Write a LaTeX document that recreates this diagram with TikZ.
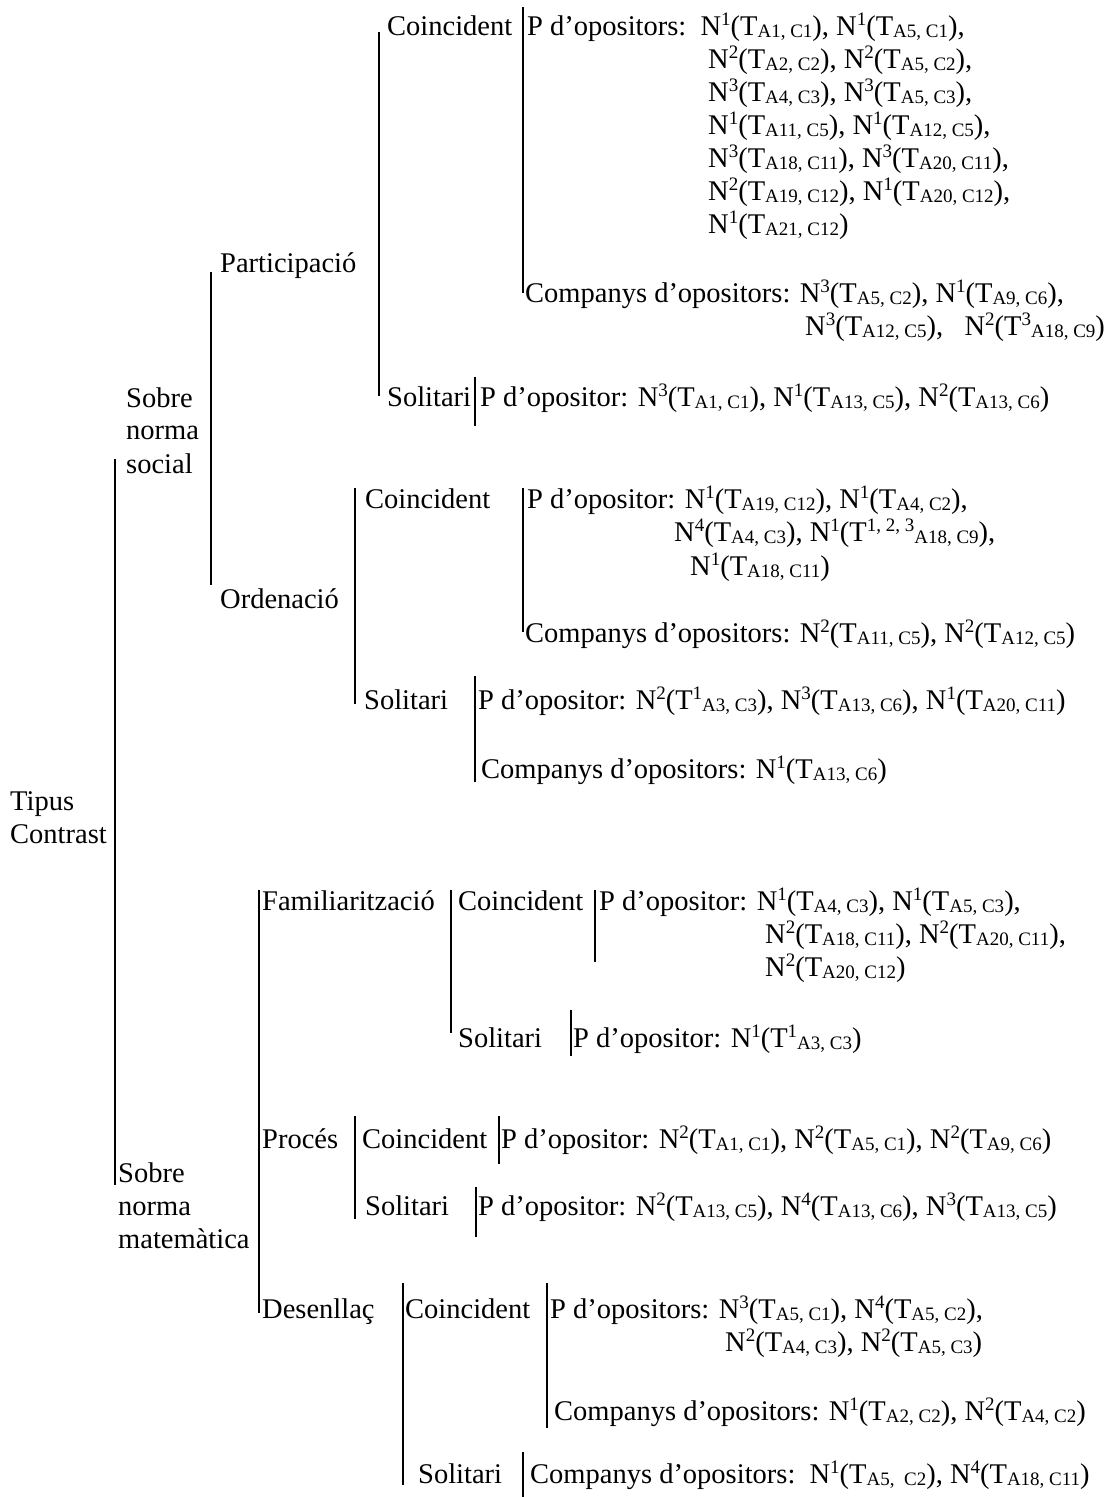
\documentclass[tikz,border=0pt]{standalone}
\usepackage{fontspec}
\setmainfont{Liberation Serif}
% raised and lowered indices at two thirds of the text size
\newcommand\Up[1]{\raisebox{0.33em}{\fontsize{19}{19}\selectfont #1}}
\newcommand\Dn[1]{\raisebox{-0.1em}{\fontsize{19}{19}\selectfont #1}}
% N^k(T_{sub})
\newcommand\Nt[2]{N\Up{#1}(T\Dn{#2})}
\begin{document}
\begin{tikzpicture}[x=1pt,y=-1pt,
  txt/.style={anchor=base west,inner sep=0pt,font=\fontsize{28.5}{33}\selectfont},
  bar/.style={line width=1.3pt}]
\useasboundingbox[fill=white] (0,0) rectangle (1104,1497);

% ---- root ----
\node[txt] (tip1) at (10,810) {Tipus};
\node[txt] (tip2) at (10,843) {Contrast};
\draw[bar] (115,459) -- (115,1185);

% ---- Sobre norma social ----
\node[txt] (ns1) at (126,407) {Sobre};
\node[txt] (ns2) at (126,439) {norma};
\node[txt] (ns3) at (126,473) {social};
\draw[bar] (211,272) -- (211,585);
\node[txt] (part) at (220,272) {Participació};
\node[txt] (orde) at (220,608) {Ordenació};

% Participació
\draw[bar] (379,32) -- (379,396);
\node[txt] (pc) at (387,35) {Coincident};
\node[txt] (ps) at (387,406) {Solitari};
\draw[bar] (523,7) -- (523,293);
\node[txt] (pc1) at (527,35) {P d’opositors:~~\Nt{1}{A1, C1}, \Nt{1}{A5, C1},};
\node[txt] (pc2) at (708,68) {\Nt{2}{A2, C2}, \Nt{2}{A5, C2},};
\node[txt] (pc3) at (708,101) {\Nt{3}{A4, C3}, \Nt{3}{A5, C3},};
\node[txt] (pc4) at (708,134) {\Nt{1}{A11, C5}, \Nt{1}{A12, C5},};
\node[txt] (pc5) at (708,167) {\Nt{3}{A18, C11}, \Nt{3}{A20, C11},};
\node[txt] (pc6) at (708,200) {\Nt{2}{A19, C12}, \Nt{1}{A20, C12},};
\node[txt] (pc7) at (708,233) {\Nt{1}{A21, C12}};
\node[txt] (pc8) at (525,302) {Companys d’opositors: \Nt{3}{A5, C2}, \Nt{1}{A9, C6},};
\node[txt] (pc9) at (805,335) {\Nt{3}{A12, C5},~~~N\Up{2}(T\Up{3}\Dn{A18, C9})};
\draw[bar] (475,377) -- (475,426);
\node[txt] (ps1) at (480,406) {P d’opositor: \Nt{3}{A1, C1}, \Nt{1}{A13, C5}, \Nt{2}{A13, C6}};

% Ordenació
\draw[bar] (355,488) -- (355,704);
\node[txt] (oc) at (365,508) {Coincident};
\node[txt] (os) at (364,709) {Solitari};
\draw[bar] (523,488) -- (523,632);
\node[txt] (oc1) at (527,508) {P d’opositor: \Nt{1}{A19, C12}, \Nt{1}{A4, C2},};
\node[txt] (oc2) at (674,541) {\Nt{4}{A4, C3}, N\Up{1}(T\Up{1, 2, 3}\Dn{A18, C9}),};
\node[txt] (oc3) at (690,575) {\Nt{1}{A18, C11}};
\node[txt] (oc4) at (525,642) {Companys d’opositors: \Nt{2}{A11, C5}, \Nt{2}{A12, C5}};
\draw[bar] (475,676) -- (475,782);
\node[txt] (os1) at (478,709) {P d’opositor: N\Up{2}(T\Up{1}\Dn{A3, C3}), \Nt{3}{A13, C6}, \Nt{1}{A20, C11}};
\node[txt] (os2) at (481,778) {Companys d’opositors: \Nt{1}{A13, C6}};

% ---- Sobre norma matemàtica ----
\node[txt] (nm1) at (118,1182) {Sobre};
\node[txt] (nm2) at (118,1215) {norma};
\node[txt] (nm3) at (118,1248) {matemàtica};
\draw[bar] (259,890) -- (259,1313);
\node[txt] (fam) at (262,910) {Familiarització};
\node[txt] (proc) at (262,1148) {Procés};
\node[txt] (des) at (262,1318) {Desenllaç};

% Familiarització
\draw[bar] (451,890) -- (451,1033);
\node[txt] (fc) at (458,910) {Coincident};
\node[txt] (fs) at (458,1047) {Solitari};
\draw[bar] (595,890) -- (595,962);
\node[txt] (fc1) at (599,910) {P d’opositor: \Nt{1}{A4, C3}, \Nt{1}{A5, C3},};
\node[txt] (fc2) at (765,943) {\Nt{2}{A18, C11}, \Nt{2}{A20, C11},};
\node[txt] (fc3) at (765,976) {\Nt{2}{A20, C12}};
\draw[bar] (571,1010) -- (571,1056);
\node[txt] (fs1) at (573,1047) {P d’opositor: N\Up{1}(T\Up{1}\Dn{A3, C3})};

% Procés
\draw[bar] (355,1116) -- (355,1219);
\node[txt] (prc) at (362,1148) {Coincident};
\node[txt] (prs) at (365,1215) {Solitari};
\draw[bar] (499,1116) -- (499,1164);
\node[txt] (prc1) at (501,1148) {P d’opositor: \Nt{2}{A1, C1}, \Nt{2}{A5, C1}, \Nt{2}{A9, C6}};
\draw[bar] (476,1187) -- (476,1237);
\node[txt] (prs1) at (478,1215) {P d’opositor: \Nt{2}{A13, C5}, \Nt{4}{A13, C6}, \Nt{3}{A13, C5}};

% Desenllaç
\draw[bar] (403,1283) -- (403,1485);
\node[txt] (dc) at (405,1318) {Coincident};
\node[txt] (ds) at (418,1483) {Solitari};
\draw[bar] (547,1283) -- (547,1428);
\node[txt] (dc1) at (550,1318) {P d’opositors: \Nt{3}{A5, C1}, \Nt{4}{A5, C2},};
\node[txt] (dc2) at (725,1351) {\Nt{2}{A4, C3}, \Nt{2}{A5, C3}};
\node[txt] (dc3) at (554,1420) {Companys d’opositors: \Nt{1}{A2, C2}, \Nt{2}{A4, C2}};
\draw[bar] (523,1452) -- (523,1497);
\node[txt] (ds1) at (530,1483) {Companys d’opositors:~~\Nt{1}{A5,~~C2}, \Nt{4}{A18, C11}};
\end{tikzpicture}
\end{document}
